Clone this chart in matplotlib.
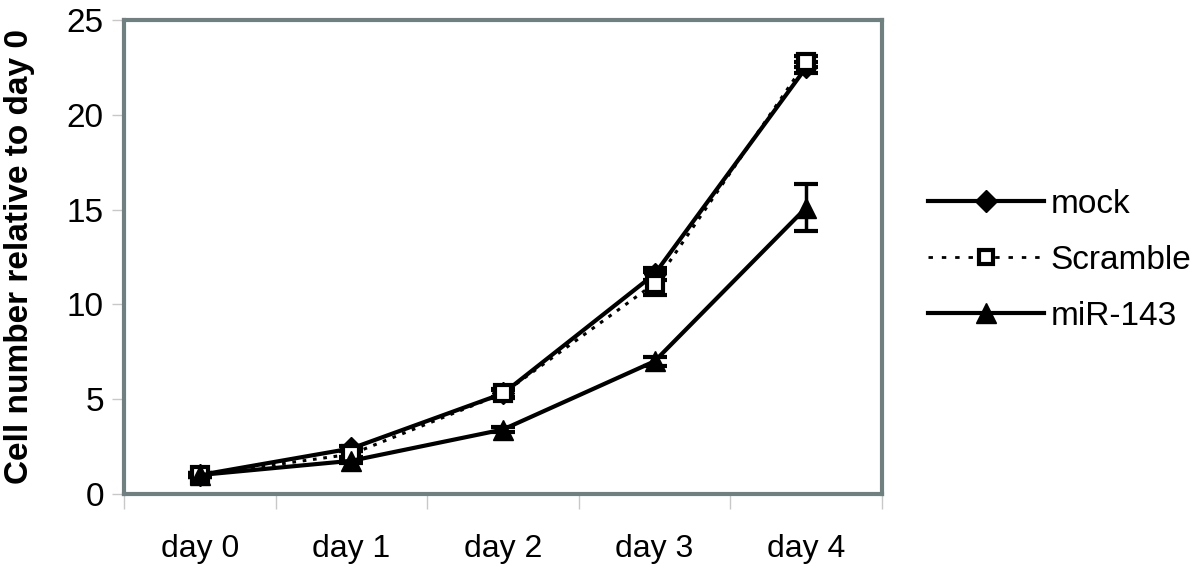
import numpy as np
import matplotlib.pyplot as plt
from matplotlib.lines import Line2D

plt.rcParams['font.family'] = ['Liberation Sans', 'DejaVu Sans']

days = ['day 0', 'day 1', 'day 2', 'day 3', 'day 4']
mock = [1.0, 2.4, 5.3, 11.6, 22.5]
mock_err = [0.1, 0.15, 0.2, 0.3, 0.3]
scramble = [1.0, 2.1, 5.3, 11.1, 22.8]
scramble_err = [0.1, 0.15, 0.25, 0.6, 0.3]
mir143 = [1.0, 1.75, 3.4, 7.0, 15.1]
mir143_err = [0.1, 0.1, 0.15, 0.25, 1.25]

fig = plt.figure(figsize=(12, 5.76), dpi=100)
ax = fig.add_axes([0.1033, 0.1424, 0.6317, 0.8229])

x = np.arange(len(days))
kw = dict(color='black', capsize=8.5, capthick=3, elinewidth=2.5)
ax.errorbar(x, mock, yerr=mock_err, marker='D', ms=11, lw=3, **kw)
ax.errorbar(x, scramble, yerr=scramble_err, marker='s', ms=11, mfc='white', mew=3,
            lw=2.2, ls=(0, (1.2, 2.2)), **kw)
ax.errorbar(x, mir143, yerr=mir143_err, marker='^', ms=14, lw=3, **kw)

ax.set_xlim(-0.5, 4.5)
ax.set_ylim(0, 25)
ax.set_yticks([0, 5, 10, 15, 20, 25])
ax.set_xticks(x)
ax.set_xticklabels(days)
ax.set_xticks(np.arange(-0.5, 5, 1), minor=True)
ax.tick_params(axis='x', which='major', length=0, pad=29, labelsize=23)
ax.tick_params(axis='x', which='minor', length=11, color='#c8c8c8', width=1)
ax.tick_params(axis='y', length=8.5, color='#c8c8c8', width=1, labelsize=24, pad=6)
for s in ax.spines.values():
    s.set_color('#6f8080')
    s.set_linewidth(3)
ax.set_ylabel('Cell number relative to day 0', fontsize=24, fontweight='bold')
ax.yaxis.set_label_coords(-0.117, 0.5)

handles = [
    Line2D([], [], color='black', lw=3, marker='D', ms=11),
    Line2D([], [], color='black', lw=2, ls=(0, (1.6, 3.2)), marker='s', ms=10,
           mfc='white', mew=3),
    Line2D([], [], color='black', lw=3, marker='^', ms=15),
]
labels = ['mock', 'Scramble', 'miR-143']
fig.legend(handles, labels, loc='center left', bbox_to_anchor=(0.773, 0.5486),
           frameon=False, fontsize=24, handlelength=3.5, handletextpad=0.2,
           labelspacing=0.75, borderpad=0, borderaxespad=0)

fig.savefig('out.png', dpi=100)
